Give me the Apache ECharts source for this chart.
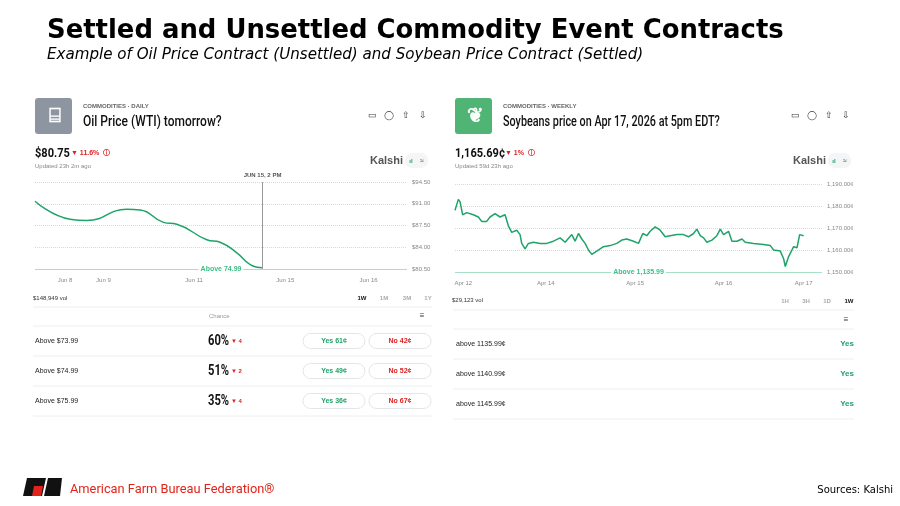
<!DOCTYPE html>
<html><head><meta charset="utf-8">
<script src="https://cdn.jsdelivr.net/npm/echarts@6/dist/echarts.min.js"></script>
<style>html,body{margin:0;padding:0;background:#fff}#c{width:900px;height:506px}</style>
</head><body><div id="c"></div>
<script>
// ---- data ----
const oilTime = [15,120,170,290,330,400,440,530,570,620,660,697];
const oilPrice = [91.4,88.5,88.3,90.1,90.0,88.0,87.7,85.2,84.8,83.1,81.2,80.7];
const oilTickPos = [105,220,492,765,1015];
const oilTickLabels = ['Jun 8','Jun 9','Jun 11','Jun 15','Jun 16'];
const soyTime = [15,25,30,38,50,70,85,95,110,120,135,150,165,175,185,200,210,215,225,235,250,270,290,310,330,345,365,375,385,395,405,415,425,440,460,480,500,515,530,550,565,578,590,600,615,630,645,660,680,700,715,730,740,750,760,770,785,800,810,820,835,845,860,875,885,910,940,960,970,990,1000,1005,1015,1030,1040,1048,1060];
const soyPrice = [1178,1183,1182,1176,1177,1176,1175,1173,1173,1175,1176.5,1175,1176,1171,1168,1169,1167,1163,1160.5,1163,1163.5,1163,1163,1164,1165.5,1163.5,1167,1164,1167.5,1165,1163,1160,1158,1159.5,1161.5,1162,1163,1164.5,1165,1164,1163,1167.5,1166.5,1168.5,1170.5,1169,1166,1166.5,1167,1167,1166,1167.5,1169.5,1166.5,1165.5,1163.5,1164.5,1166.5,1169.5,1167,1168.5,1164,1164,1165,1163.5,1163,1162.5,1162,1160,1159.5,1156,1152.5,1157,1161.5,1161,1167,1166.5];
const soyTickPos = [40,287,555,820,1060];
const soyTickLabels = ['Apr 12','Apr 14','Apr 15','Apr 16','Apr 17'];
const oilRows = ['Above $73.99','Above $74.99','Above $75.99'];
const oilChance = ['60%','51%','35%'];
const oilChg = ['4','2','4'];
const oilYes = ['Yes 61¢','Yes 49¢','Yes 36¢'];
const oilNo = ['No 42¢','No 52¢','No 67¢'];
const soyRows = ['above 1135.99¢','above 1140.99¢','above 1145.99¢'];

// ---- chart ----
const G='#1fa36a', NF="'Roboto',sans-serif", SF="'Liberation Sans',Arial,sans-serif";
const gr=[];
function T(x,y,text,font,fill,align,sx){gr.push({type:'text',x,y,scaleX:sx||1,style:{text,font,fill:fill||'#222',textAlign:align||'left',textVerticalAlign:'middle'}});}
function L(x1,y1,x2,y2,c){gr.push({type:'line',shape:{x1,y1,x2,y2},style:{stroke:c||'#eceef0',lineWidth:1}});}
function R(x,y,w,h,fill,stroke,r){gr.push({type:'rect',shape:{x,y,width:w,height:h,r:r||0},style:{fill,stroke:stroke||null,lineWidth:1}});}
T(47,31,'Settled and Unsettled Commodity Event Contracts',"bold 25.9px 'DejaVu Sans'",'#000');
T(47,55,'Example of Oil Price Contract (Unsettled) and Soybean Price Contract (Settled)',"italic 15.1px 'DejaVu Sans'",'#000');
// panel headers
function header(px,iconFill,cat,title,tsx,price,chgx,chg,upd,kx){
  R(px,98,37,36,iconFill,null,3);
  T(px+48,106,cat,"bold 6px "+SF,'#666');
  T(px+48,122,title,"500 15px "+NF,'#111','left',tsx);
  ['▭','◯','⇧','⇩'].forEach((s,i)=>T(kx+2+i*17,116,s,"9px "+SF,'#333','center'));
  T(px,154,price,"bold 13px "+NF,'#111','left',0.85);
  T(chgx,153,chg,"bold 7px "+SF,'#d22');
  T(px,166,upd,"6px "+SF,'#888');
  T(kx,161,'Kalshi',"bold 11px "+SF,'#555');
  R(kx+35,153,23,15,'#f4f5f6',null,7);
  T(kx+41,161,'ıl',"bold 6px "+SF,G,'center');
  T(kx+52,161,'≈',"7px "+SF,'#444','center');
}
header(35,'#8d96a0','COMMODITIES · DAILY','Oil Price (WTI) tomorrow?',0.8,'$80.75',71,'▼ 11.6%  ⓘ','Updated 23h 2m ago',370);
header(455,'#4fb474','COMMODITIES · WEEKLY','Soybeans price on Apr 17, 2026 at 5pm EDT?',0.72,'1,165.69¢',505,'▼ 1%  ⓘ','Updated 59d 23h ago',793);
T(55,116,'⌸',"bold 20px "+SF,'#fff','center');
T(475,116,'❦',"bold 20px "+SF,'#fff','center');
// left table
T(33,298,'$148,949 vol',"6px "+SF,'#333');
[['1W',362,'#111'],['1M',384,'#aaa'],['3M',407,'#aaa'],['1Y',428,'#aaa']].forEach(a=>T(a[1],298,a[0],"bold 6px "+SF,a[2],'center'));
L(33,307,432,307);T(209,316,'Chance',"6px "+SF,'#999');T(422,316,'≡',"8px "+SF,'#333','center');L(33,326,432,326);
oilRows.forEach((r,i)=>{const y=341+i*30;
  T(35,y,r,"7px "+SF,'#222');T(208,y,oilChance[i],"bold 14px "+NF,'#111','left',0.8);T(231,y,'▼ '+oilChg[i],"bold 6px "+SF,'#d22');
  R(303,y-7.5,62,15,'#fff','#e3e5e8',7.5);T(334,y,oilYes[i],"bold 7px "+SF,G,'center');
  R(369,y-7.5,62,15,'#fff','#e3e5e8',7.5);T(400,y,oilNo[i],"bold 7px "+SF,'#d22','center');
  L(33,y+15,432,y+15);});
// right table
T(452,300,'$29,123 vol',"6px "+SF,'#333');
[['1H',785,'#aaa'],['3H',806,'#aaa'],['1D',827,'#aaa'],['1W',849,'#111']].forEach(a=>T(a[1],301,a[0],"bold 6px "+SF,a[2],'center'));
L(453,310,854,310);T(846,320,'≡',"8px "+SF,'#333','center');L(453,329,854,329);
soyRows.forEach((r,i)=>{const y=344+i*30;T(456,y,r,"7px "+SF,'#222');T(854,y,'Yes',"bold 8px "+SF,G,'right');L(453,y+15,854,y+15);});
// footer
gr.push({type:'polygon',shape:{points:[[27,478],[46,478],[42,496],[23,496]]},style:{fill:'#111'}});
gr.push({type:'polygon',shape:{points:[[34,486],[43,486],[41,496],[32,496]]},style:{fill:'#e2231a'}});
gr.push({type:'polygon',shape:{points:[[48,478],[62,478],[60,496],[44,496]]},style:{fill:'#111'}});
T(70,490,'American Farm Bureau Federation®',"13.5px "+NF,'#e2231a','left',0.95);
T(893,490,'Sources: Kalshi',"10px 'DejaVu Sans'",'#000','right');

const xa=(min,max,pos,labs)=>({type:'value',min,max,axisLine:{show:false},axisTick:{show:false},splitLine:{show:false},
  axisLabel:{customValues:pos,formatter:v=>labs[pos.indexOf(v)]||'',fontSize:6,color:'#888',margin:8}});
const ya=(min,max,iv,fmt)=>({type:'value',position:'right',min,max,interval:iv,axisLine:{show:false},axisTick:{show:false},
  splitLine:{lineStyle:{type:'dotted',color:'#d8d8d8'}},axisLabel:{fontSize:6,color:'#888',formatter:fmt,margin:5}});
const chart=echarts.init(document.getElementById('c'));
chart.setOption({animation:false,
  grid:[{left:35,right:493,top:182,bottom:237},{left:455,right:78,top:184,bottom:234}],
  xAxis:[xa(15,1130,oilTickPos,oilTickLabels),Object.assign(xa(15,1115,soyTickPos,soyTickLabels),{gridIndex:1})],
  yAxis:[ya(80.5,94.5,3.5,v=>'$'+v.toFixed(2)),Object.assign(ya(1150,1190,10,v=>v.toLocaleString('en-US',{minimumFractionDigits:2})+'¢'),{gridIndex:1})],
  series:[
   {type:'line',data:oilTime.map((t,i)=>[t,oilPrice[i]]),smooth:0.5,showSymbol:false,lineStyle:{color:G,width:1.5},
    markLine:{symbol:'none',silent:true,data:[
      {yAxis:80.5,lineStyle:{color:'#a8e0c6',type:'solid',width:1},label:{formatter:'Above 74.99',position:'middle',color:'#3cbf86',fontSize:7,fontWeight:'bold',backgroundColor:'#fff',padding:[0,2],distance:-4}},
      {xAxis:697,lineStyle:{color:'#999',type:'solid',width:1},label:{formatter:'JUN 15, 2 PM',position:'end',color:'#555',fontSize:6,fontWeight:'bold',distance:4}}]}},
   {type:'line',xAxisIndex:1,yAxisIndex:1,data:soyTime.map((t,i)=>[t,soyPrice[i]]),showSymbol:false,lineStyle:{color:G,width:1.5},
    markLine:{symbol:'none',silent:true,data:[
      {yAxis:1150,lineStyle:{color:'#a8e0c6',type:'solid',width:1},label:{formatter:'Above 1,135.99',position:'middle',color:'#3cbf86',fontSize:7,fontWeight:'bold',backgroundColor:'#fff',padding:[0,2],distance:-4}}]}}
  ],
  graphic:gr});
</script></body></html>
